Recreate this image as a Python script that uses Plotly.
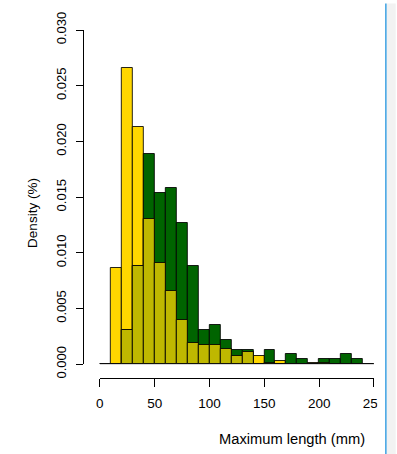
import plotly.graph_objects as go

# Bin left edges (mm), width 10
bin_edges = [0, 10, 20, 30, 40, 50, 60, 70, 80, 90, 100, 110, 120, 130, 140,
             150, 160, 170, 180, 190, 200, 210, 220, 230, 240]
bin_width = 10

yellow_density = [0, 0.0086, 0.0266, 0.0213, 0.0130, 0.0091, 0.0066, 0.0040,
                  0.0019, 0.0017, 0.0017, 0.0014, 0.0007, 0.0011, 0.0007,
                  0.00015, 0.0003, 0, 0, 0.00015, 0.00015, 0, 0, 0, 0]
green_density = [0, 0, 0.0031, 0.0088, 0.0189, 0.0154, 0.0158, 0.0127,
                 0.0088, 0.0031, 0.0035, 0.0022, 0.0013, 0.0013, 0,
                 0.0013, 0, 0.0009, 0.00044, 0, 0.00044, 0.00044, 0.0009,
                 0.00044, 0]

x_tickvals = [0, 50, 100, 150, 200, 250]
x_ticktext = ["0", "50", "100", "150", "200", "250"]
y_tickvals = [0, 0.005, 0.010, 0.015, 0.020, 0.025, 0.030]
y_ticktext = ["0.000", "0.005", "0.010", "0.015", "0.020", "0.025", "0.030"]

GOLD = "#FFD700"
DKGREEN = "#006400"
OLIVE = "#BFB800"
EDGE = "rgba(0,0,0,0.85)"

overlap = [min(a, b) for a, b in zip(yellow_density, green_density)]
centers = [e + bin_width / 2 for e in bin_edges]

fig = go.Figure()
for vals, col in [(yellow_density, GOLD), (green_density, DKGREEN), (overlap, OLIVE)]:
    fig.add_trace(go.Bar(
        x=centers, y=vals, width=bin_width,
        marker=dict(color=col, line=dict(color=EDGE, width=1)),
        hoverinfo="skip", showlegend=False,
    ))

W, H = 397, 454
L, R, T, B = 83, 20, 25, 76
pw = W - L - R
ph = H - T - B

def px_x(p):
    return (p - L) / pw

def px_y(p):
    return (H - B - p) / ph

font = "Liberation Sans, Arial, sans-serif"

fig.update_layout(
    width=W, height=H,
    margin=dict(l=L, r=R, t=T, b=B, pad=0),
    plot_bgcolor="white", paper_bgcolor="white",
    barmode="overlay", bargap=0,
    font=dict(family=font, size=13, color="black"),
    xaxis=dict(
        range=[0, 250], domain=[px_x(100), 1],
        tickvals=x_tickvals, ticktext=x_ticktext,
        ticks="outside", ticklen=8, tickwidth=1, tickcolor="black",
        showline=True, linecolor="black", linewidth=1,
        showgrid=False, zeroline=False,
        anchor="free", position=0,
        ticklabelstandoff=5,
        tickfont=dict(size=13.5),
    ),
    yaxis=dict(
        range=[0, 0.030], domain=[px_y(364), 1],
        tickvals=y_tickvals, ticktext=y_ticktext,
        ticks="outside", ticklen=7, tickwidth=1, tickcolor="black",
        showline=True, linecolor="black", linewidth=1,
        showgrid=False, zeroline=False,
        anchor="free", position=0,
        tickangle=-90,
        ticklabelstandoff=5,
        tickfont=dict(size=13),
    ),
    annotations=[
        dict(text="Density (%)", xref="paper", yref="paper",
             x=px_x(32), y=px_y(211), textangle=-90, showarrow=False,
             xanchor="center", yanchor="middle", font=dict(size=13.5)),
        dict(text="Maximum length (mm)", xref="paper", yref="paper",
             x=px_x(294), y=px_y(440), showarrow=False,
             xanchor="center", yanchor="middle", font=dict(size=14.7)),
    ],
    shapes=[
        dict(type="rect", xref="paper", yref="paper",
             x0=px_x(380.5), x1=px_x(389), y0=px_y(H + 2), y1=px_y(-2),
             fillcolor="white", line=dict(width=0), layer="above"),
        dict(type="rect", xref="paper", yref="paper",
             x0=px_x(390), x1=px_x(W + 2), y0=px_y(H + 2), y1=px_y(-2),
             fillcolor="#f2f2f2", line=dict(width=0), layer="above"),
        dict(type="line", xref="paper", yref="paper",
             x0=px_x(389), x1=px_x(389), y0=px_y(H + 2), y1=px_y(-2),
             line=dict(color="#3a9fe0", width=1.5), layer="above"),
    ],
)
# baseline for zero-height bins
fig.add_shape(type="line", xref="x", yref="y", x0=0, x1=250, y0=0, y1=0,
              line=dict(color="#222222", width=1), layer="above")

fig.write_html("out.html", config={"displayModeBar": False},
               post_script="document.body.style.margin='0';document.body.style.overflow='hidden';")
